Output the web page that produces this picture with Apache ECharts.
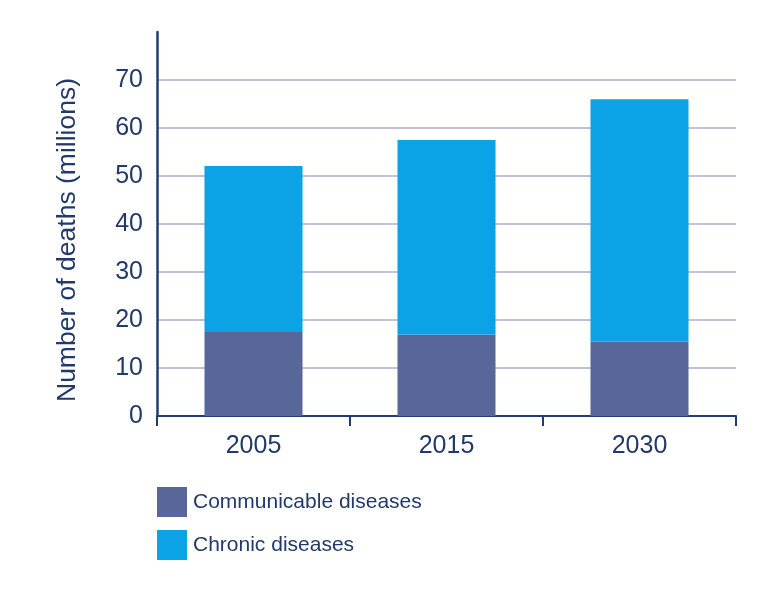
<!DOCTYPE html>
<html>
<head>
<meta charset="utf-8">
<script src="https://cdn.jsdelivr.net/npm/echarts@6/dist/echarts.min.js"></script>
<style>
html,body{margin:0;padding:0;background:#fff;}
#chart{width:782px;height:589px;}
</style>
</head>
<body>
<div id="chart"></div>
<script>
var years = ['2005', '2015', '2030'];
var communicable = [17.5, 17.0, 15.5];
var chronic = [34.6, 40.5, 50.5];
var seriesNames = ['Communicable diseases', 'Chronic diseases'];
var yAxisTitle = 'Number of deaths (millions)';

var textColor = '#213a6b';
var axisColor = '#1f3d73';
var font = '"Liberation Sans", Arial, Helvetica, sans-serif';

var chart = echarts.init(document.getElementById('chart'));
chart.setOption({
  animation: false,
  backgroundColor: '#ffffff',
  textStyle: { fontFamily: font, color: textColor },
  grid: { left: 157, right: 46, top: 32, bottom: 173, containLabel: false },
  legend: {
    orient: 'vertical',
    left: 152,
    top: 482,
    itemWidth: 30,
    itemHeight: 30,
    itemGap: 13,
    icon: 'rect',
    textStyle: { fontFamily: font, fontSize: 21, color: textColor, padding: [2, 0, 0, 1] },
    data: seriesNames
  },
  xAxis: {
    type: 'category',
    data: years,
    axisLine: { lineStyle: { color: axisColor, width: 2 } },
    axisTick: { show: true, length: 10, alignWithLabel: false, lineStyle: { color: axisColor, width: 2 } },
    axisLabel: { fontFamily: font, fontSize: 25, color: textColor, margin: 18 }
  },
  yAxis: {
    type: 'value',
    min: 0,
    max: 80,
    interval: 10,
    axisLine: { show: true, lineStyle: { color: axisColor, width: 2.5 } },
    axisTick: { show: false },
    axisLabel: { fontFamily: font, fontSize: 25, color: textColor, margin: 14, showMaxLabel: false },
    splitLine: { show: true, showMaxLine: false, lineStyle: { color: '#c3c0d8', width: 2 } }
  },
  graphic: [{
    type: 'text',
    x: 68,
    y: 240,
    rotation: Math.PI / 2,
    style: {
      text: yAxisTitle,
      fontFamily: font,
      fontSize: 26.5,
      fill: textColor,
      align: 'center',
      verticalAlign: 'middle'
    }
  }],
  series: [
    {
      name: seriesNames[0],
      type: 'bar',
      stack: 'total',
      barWidth: 98,
      data: communicable,
      itemStyle: { color: '#596699' }
    },
    {
      name: seriesNames[1],
      type: 'bar',
      stack: 'total',
      barWidth: 98,
      data: chronic,
      itemStyle: { color: '#0ba2e6' }
    }
  ]
});
</script>
</body>
</html>
